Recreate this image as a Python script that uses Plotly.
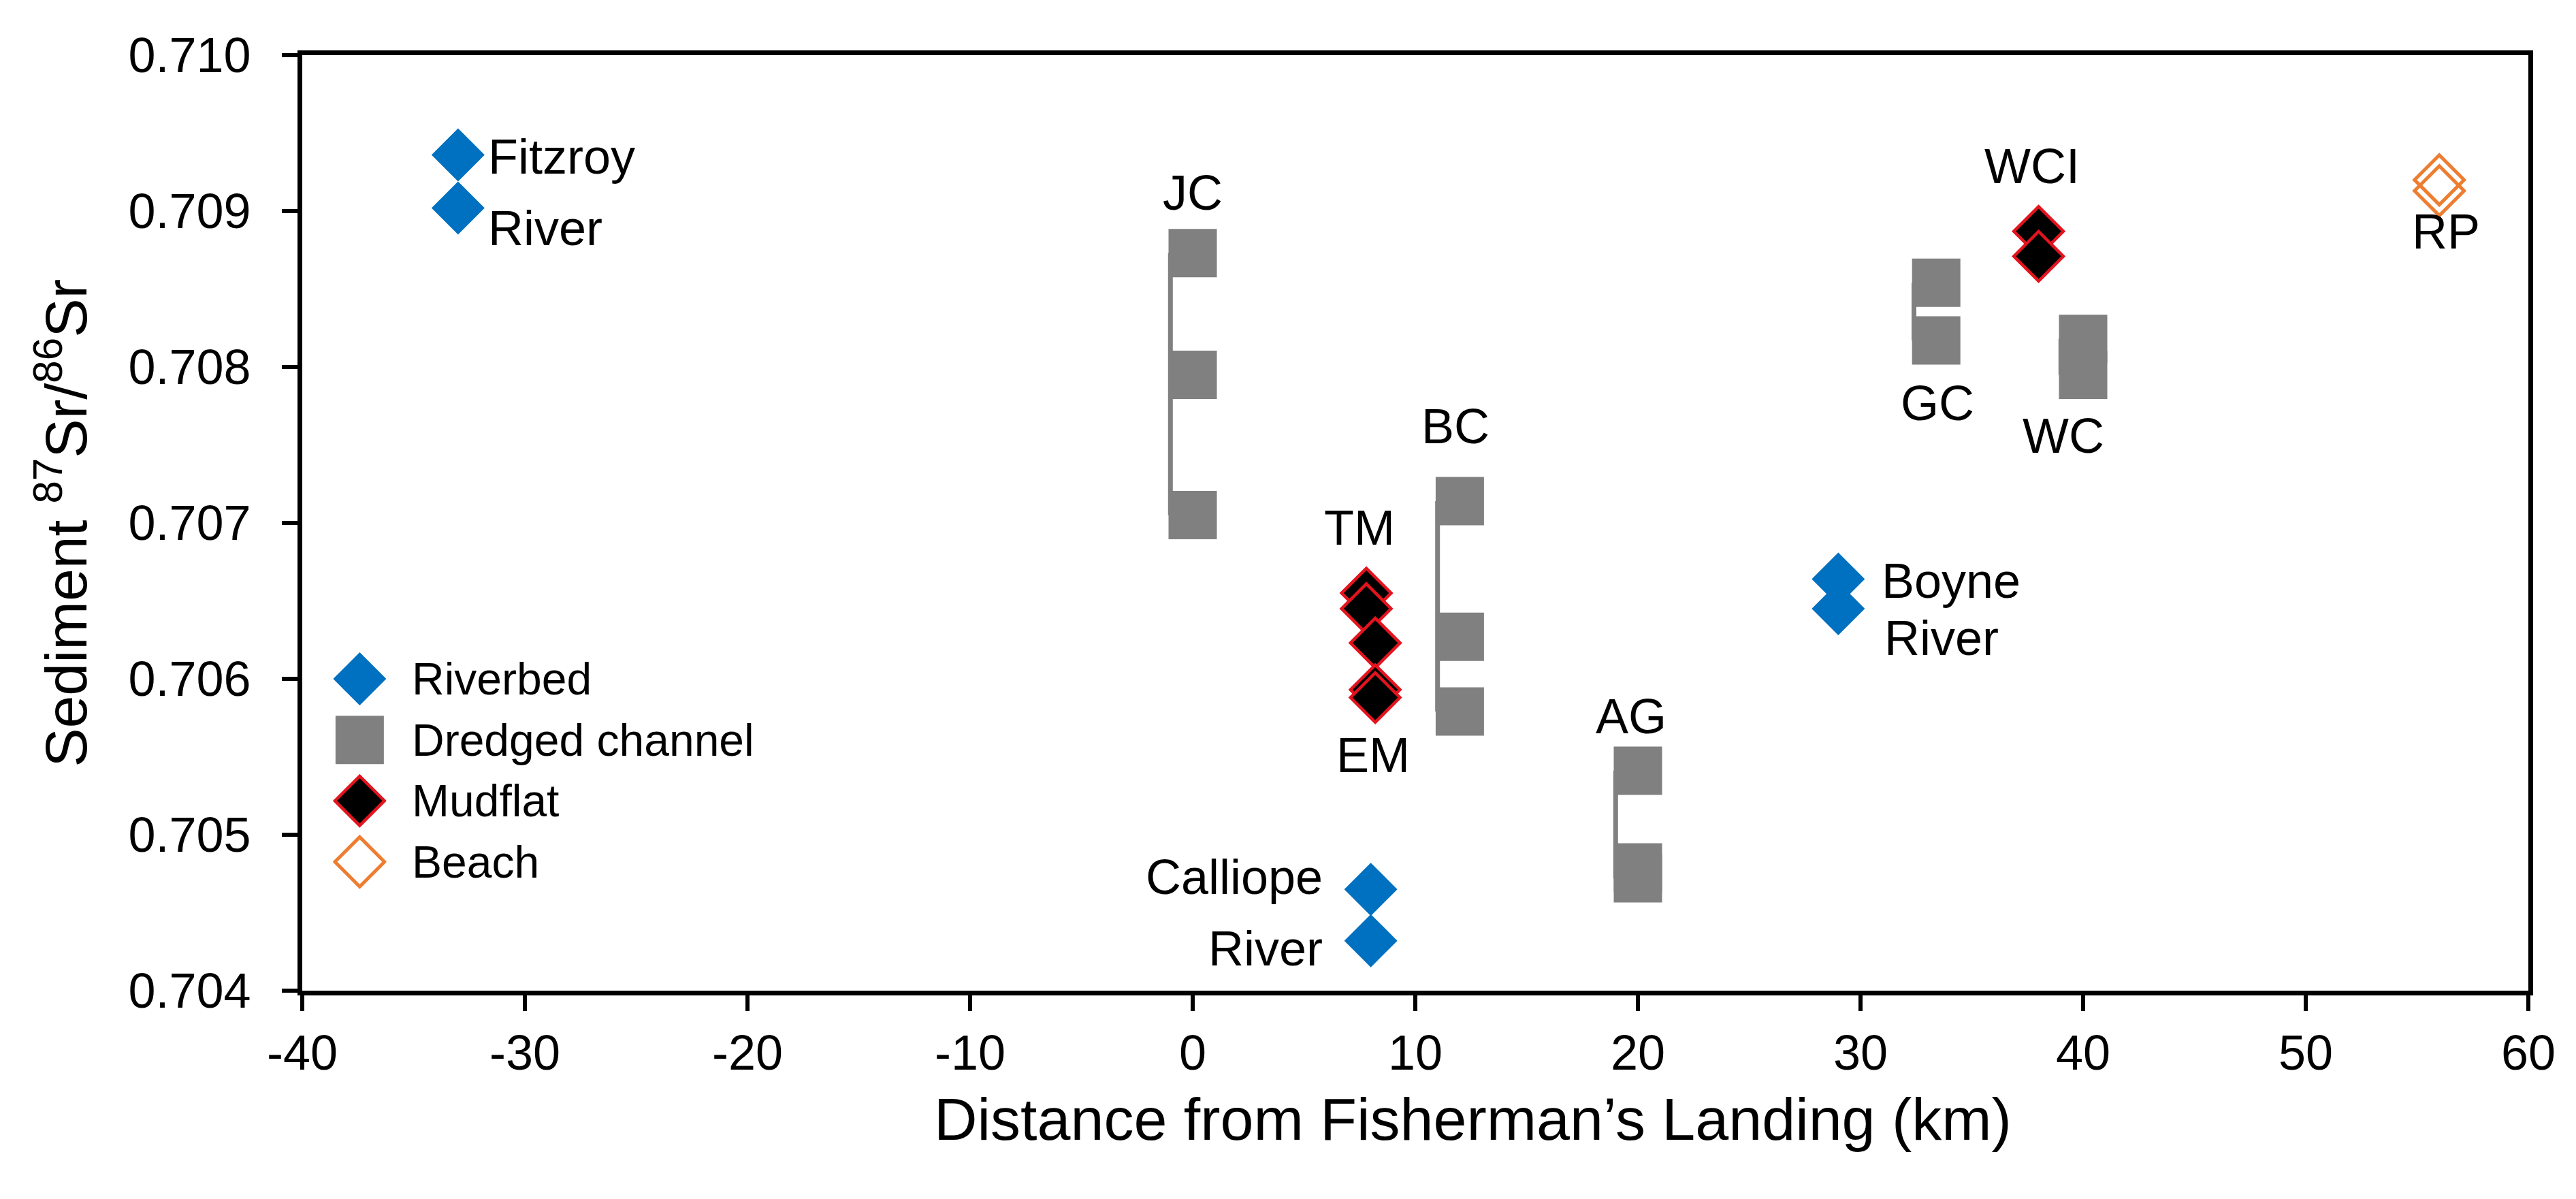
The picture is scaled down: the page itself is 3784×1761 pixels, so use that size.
import plotly.graph_objects as go

# ---------------- data ----------------
x_ticks = [-40, -30, -20, -10, 0, 10, 20, 30, 40, 50, 60]
x_ticktext = ["-40", "-30", "-20", "-10", "0", "10", "20", "30", "40", "50", "60"]
y_ticks = [0.704, 0.705, 0.706, 0.707, 0.708, 0.709, 0.710]
y_ticktext = ["0.704", "0.705", "0.706", "0.707", "0.708", "0.709", "0.710"]

riverbed_x = [-33, -33, 8, 8, 29, 29]
riverbed_y = [0.70936, 0.70902, 0.70465, 0.70432, 0.70664, 0.70645]

dredged_site = ["JC", "JC", "JC", "BC", "BC", "BC", "AG", "AG", "AG", "GC", "GC", "WC", "WC"]
dredged_x = [0, 0, 0, 12, 12, 12, 20, 20, 20, 33.4, 33.4, 40, 40]
dredged_y = [0.70873, 0.70795, 0.70705,
             0.70714, 0.70627, 0.70579,
             0.70541, 0.70479, 0.70472,
             0.70854, 0.70817,
             0.70818, 0.70795]

mudflat_x = [7.8, 7.8, 8.2, 8.2, 8.2, 38, 38]
mudflat_y = [0.70655, 0.70645, 0.70623, 0.70593, 0.70588, 0.70887, 0.70871]

beach_x = [56, 56]
beach_y = [0.70920, 0.70913]

legend_labels = ["Riverbed", "Dredged channel", "Mudflat", "Beach"]

# text labels: (text, x, y, xanchor)
site_labels = [
    ("Fitzroy", -31.7, 0.70935, "left"),
    ("River", -31.7, 0.70889, "left"),
    ("JC", 0.0, 0.70912, "center"),
    ("TM", 7.5, 0.70697, "center"),
    ("EM", 8.1, 0.70551, "center"),
    ("BC", 11.8, 0.70762, "center"),
    ("AG", 19.7, 0.70576, "center"),
    ("Calliope", 5.9, 0.70473, "right"),
    ("River", 5.9, 0.70427, "right"),
    ("Boyne", 30.9, 0.70663, "left"),
    ("River", 31.0, 0.70626, "left"),
    ("GC", 33.45, 0.70777, "center"),
    ("WC", 39.1, 0.70756, "center"),
    ("WCI", 37.7, 0.70929, "center"),
    ("RP", 56.3, 0.70887, "center"),
]

# ---------------- style ----------------
W, H = 3784, 1761
ML, MR, MT, MB = 436, 78, 73, 314
FONT = "Liberation Sans"
BLUE = "#0070C0"
GRAY = "#808080"
RED = "#E3141E"
ORANGE = "#ED7D31"
LINE_OFFSET = 1.0  # km, connector drawn along left edge of squares

riverbed_marker = dict(symbol="diamond", size=60, color=BLUE, line=dict(width=0))
dredged_marker = dict(symbol="square", size=71, color=GRAY, line=dict(width=0))
mudflat_marker = dict(symbol="diamond", size=56, color="black", line=dict(width=4.5, color=RED))
beach_marker = dict(symbol="diamond-open", size=56, color=ORANGE, line=dict(width=5, color=ORANGE))
markers = [riverbed_marker, dredged_marker, mudflat_marker, beach_marker]

fig = go.Figure()

# connector lines for dredged channel sites
lx, ly = [], []
for site in dict.fromkeys(dredged_site):
    ys = [y for s, y in zip(dredged_site, dredged_y) if s == site]
    xs = [x for s, x in zip(dredged_site, dredged_x) if s == site]
    if len(ys) > 1:
        lx += [xs[0] - LINE_OFFSET, xs[0] - LINE_OFFSET, None]
        ly += [max(ys), min(ys), None]
fig.add_trace(go.Scatter(x=lx, y=ly, mode="lines", line=dict(color=GRAY, width=7),
                         showlegend=False, hoverinfo="skip"))

fig.add_trace(go.Scatter(x=dredged_x, y=dredged_y, mode="markers", marker=dredged_marker,
                         name="Dredged channel", showlegend=False))
fig.add_trace(go.Scatter(x=riverbed_x, y=riverbed_y, mode="markers", marker=riverbed_marker,
                         name="Riverbed", showlegend=False))
fig.add_trace(go.Scatter(x=mudflat_x, y=mudflat_y, mode="markers", marker=mudflat_marker,
                         name="Mudflat", showlegend=False))
fig.add_trace(go.Scatter(x=beach_x, y=beach_y, mode="markers", marker=beach_marker,
                         name="Beach", showlegend=False))

# custom legend on its own small axes
for i, (lab, mk) in enumerate(zip(legend_labels, markers)):
    fig.add_trace(go.Scatter(x=[0.5], y=[i], mode="markers", marker=mk, xaxis="x2", yaxis="y2",
                             showlegend=False, hoverinfo="skip"))

annotations = []
for i, lab in enumerate(legend_labels):
    annotations.append(dict(text=lab, x=0.5, y=i, xref="x2", yref="y2", xanchor="left",
                            yanchor="middle", xshift=75, showarrow=False,
                            font=dict(family=FONT, size=66, color="black")))
for text, x, y, xa in site_labels:
    annotations.append(dict(text=text, x=x, y=y, xref="x", yref="y", xanchor=xa,
                            yanchor="middle", showarrow=False,
                            font=dict(family=FONT, size=72, color="black")))

# axis titles
annotations.append(dict(text="Distance from Fisherman’s Landing (km)", x=0.5257, y=-0.1375,
                        xref="paper", yref="paper", xanchor="center", yanchor="middle",
                        showarrow=False, font=dict(family=FONT, size=88, color="black")))
annotations.append(dict(text="Sediment <sup>87</sup>Sr/<sup>86</sup>Sr", x=-0.108, y=0.5,
                        xref="paper", yref="paper", xanchor="center", yanchor="middle",
                        textangle=-90, showarrow=False,
                        font=dict(family=FONT, size=86, color="black")))

axis_common = dict(showgrid=False, zeroline=False, showline=True, linecolor="black",
                   linewidth=7, mirror=True, ticks="outside", ticklen=23, tickwidth=6,
                   tickcolor="black", tickfont=dict(family=FONT, size=72, color="black"))

fig.update_layout(
    width=W, height=H,
    margin=dict(l=ML, r=MR, t=MT, b=MB),
    paper_bgcolor="white", plot_bgcolor="white",
    showlegend=False,
    xaxis=dict(range=[-40, 60], tickvals=x_ticks, ticktext=x_ticktext,
               ticklabelstandoff=0, **axis_common),
    yaxis=dict(range=[0.704, 0.710], tickvals=y_ticks, ticktext=y_ticktext,
               ticklabelstandoff=31, **axis_common),
    xaxis2=dict(domain=[0.0138, 0.0378], range=[0, 1], visible=False, anchor="y2"),
    yaxis2=dict(domain=[0.1051, 0.3659], range=[3.5, -0.5], visible=False, anchor="x2"),
    annotations=annotations,
)

fig.write_html("out.html")
